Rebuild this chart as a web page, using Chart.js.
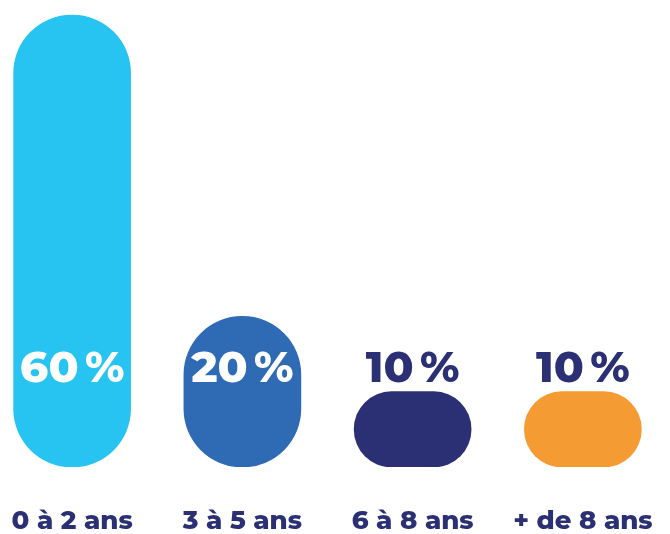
<!DOCTYPE html>
<html>
<head>
<meta charset="utf-8">
<script src="https://cdn.jsdelivr.net/npm/chart.js@4"></script>
<style>
  html, body { margin: 0; padding: 0; background: #ffffff; overflow: hidden; }
  #c { position: absolute; left: -13px; top: 0; }
</style>
</head>
<body>
<canvas id="c" width="681" height="534" style="width:681px;height:534px"></canvas>
<script>
const categories = ["0 à 2 ans", "3 à 5 ans", "6 à 8 ans", "+ de 8 ans"];
const values = [60, 20, 10, 10];
const valueLabels = ["60\u2009%", "20\u2009%", "10\u2009%", "10\u2009%"];
const barColors = ["#27C3F1", "#2F6AB4", "#2B3074", "#F59B33"];
const NAVY = "#2B3074";
const LABEL_LEVEL = 13;
const FONT = "'Montserrat', 'Open Sans', sans-serif";

const valueLabelPlugin = {
  id: 'valueLabels',
  afterDatasetsDraw(chart) {
    const ctx = chart.ctx;
    const meta = chart.getDatasetMeta(0);
    const yScale = chart.scales.y;
    const y = yScale.getPixelForValue(LABEL_LEVEL);
    ctx.save();
    ctx.font = "800 44px " + FONT;
    ctx.textAlign = 'center';
    ctx.textBaseline = 'middle';
    meta.data.forEach((bar, i) => {
      ctx.fillStyle = values[i] > LABEL_LEVEL ? '#ffffff' : NAVY;
      ctx.fillText(valueLabels[i], bar.x, y);
    });
    ctx.restore();
  }
};

new Chart(document.getElementById('c'), {
  type: 'bar',
  data: {
    labels: categories,
    datasets: [{
      data: values,
      backgroundColor: barColors,
      borderRadius: 999,
      borderSkipped: false,
      barThickness: 117
    }]
  },
  options: {
    responsive: false,
    maintainAspectRatio: false,
    animation: false,
    devicePixelRatio: 1,
    layout: { padding: 0 },
    plugins: { legend: { display: false }, tooltip: { enabled: false } },
    scales: {
      x: {
        grid: { display: false, drawTicks: true, tickLength: 41 },
        border: { display: false },
        ticks: {
          color: NAVY,
          padding: 0,
          font: { family: FONT, weight: '800', size: 26, lineHeight: 1.0 }
        }
      },
      y: {
        display: false,
        min: 0,
        max: 62
      }
    }
  },
  plugins: [valueLabelPlugin]
});
</script>
</body>
</html>
